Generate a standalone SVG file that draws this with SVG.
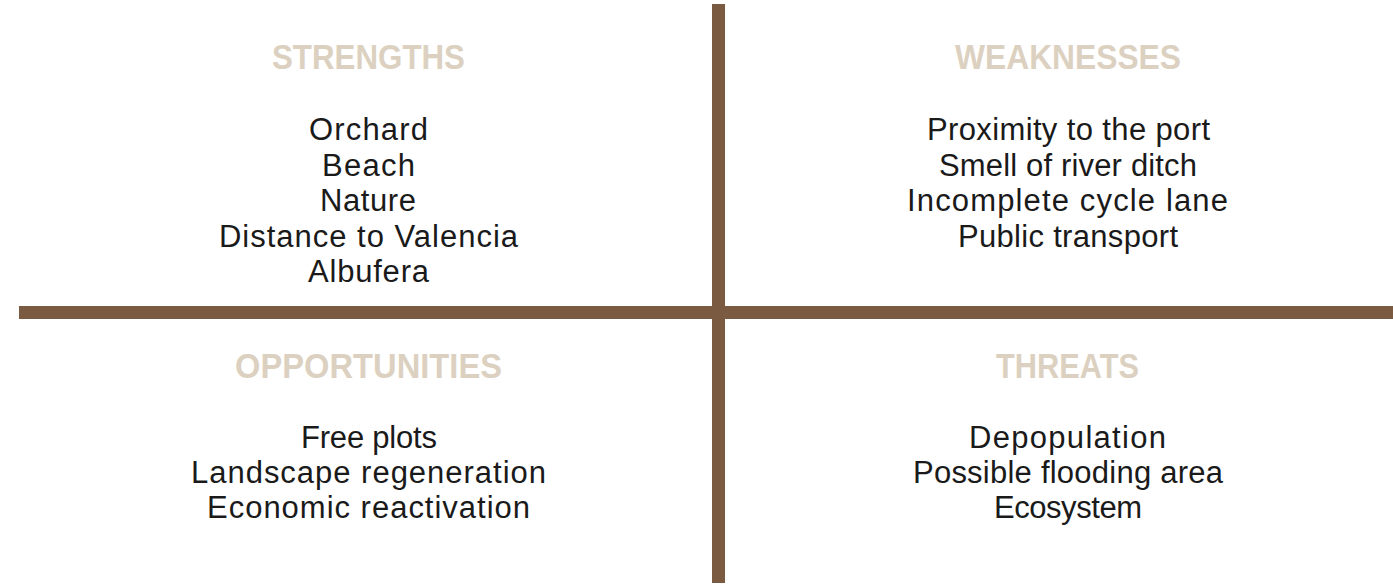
<svg xmlns="http://www.w3.org/2000/svg" width="1393" height="586" viewBox="0 0 1393 586">
  <style>
    .bar { fill: #7a5b42; }
    .title { font-family: "Liberation Sans", Arial, sans-serif; font-weight: bold; font-size: 35px; fill: #dcd1c0; }
    .item { font-family: "Liberation Sans", Arial, sans-serif; font-size: 31px; fill: #1a1a1a; }
  </style>
  <rect width="1393" height="586" fill="#ffffff"/>

  <!-- quadrant dividers -->
  <g id="connectors">
    <rect class="bar" x="19" y="306" width="1374" height="13"/>
    <rect class="bar" x="712" y="4" width="13" height="579"/>
  </g>

  <g id="strengths">
    <text class="title" x="272" y="69" textLength="193" lengthAdjust="spacingAndGlyphs">STRENGTHS</text>
    <text class="item" x="309" y="140" textLength="119">Orchard</text>
    <text class="item" x="322" y="175.5" textLength="93">Beach</text>
    <text class="item" x="320" y="211" textLength="96">Nature</text>
    <text class="item" x="219" y="246.5" textLength="299">Distance to Valencia</text>
    <text class="item" x="308" y="282" textLength="121">Albufera</text>
  </g>

  <g id="weaknesses">
    <text class="title" x="955" y="69" textLength="226" lengthAdjust="spacingAndGlyphs">WEAKNESSES</text>
    <text class="item" x="927" y="140" textLength="283">Proximity to the port</text>
    <text class="item" x="939" y="175.5" textLength="258">Smell of river ditch</text>
    <text class="item" x="907" y="211" textLength="321">Incomplete cycle lane</text>
    <text class="item" x="958" y="246.5" textLength="220">Public transport</text>
  </g>

  <g id="opportunities">
    <text class="title" x="235" y="378" textLength="267" lengthAdjust="spacingAndGlyphs">OPPORTUNITIES</text>
    <text class="item" x="301" y="447.5" textLength="136">Free plots</text>
    <text class="item" x="191" y="482.5" textLength="355">Landscape regeneration</text>
    <text class="item" x="207" y="517.5" textLength="323">Economic reactivation</text>
  </g>

  <g id="threats">
    <text class="title" x="996" y="378" textLength="143" lengthAdjust="spacingAndGlyphs">THREATS</text>
    <text class="item" x="969" y="447.5" textLength="197">Depopulation</text>
    <text class="item" x="913" y="482.5" textLength="310">Possible flooding area</text>
    <text class="item" x="994" y="517.5" textLength="148">Ecosystem</text>
  </g>
</svg>
